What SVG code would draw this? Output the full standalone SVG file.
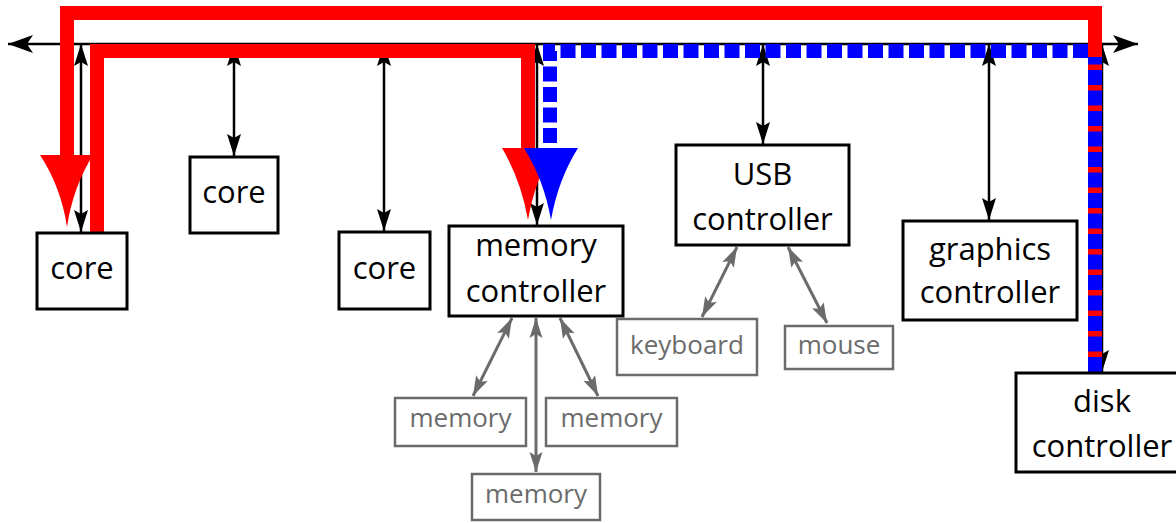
<svg xmlns="http://www.w3.org/2000/svg" width="1176" height="523" viewBox="0 0 1176 523">
<style>
.box{fill:#fff;stroke:#000;stroke-width:3}
.gbox{fill:#fff;stroke:#6b6b6b;stroke-width:2.5}
.t{font-family:"Open Sans","DejaVu Sans",sans-serif;font-size:31px;fill:#000;text-anchor:middle}
.gt{font-family:"Open Sans","DejaVu Sans",sans-serif;font-size:26px;fill:#6b6b6b;text-anchor:middle}
.conn{stroke:#000;stroke-width:2.5;fill:none;marker-start:url(#ah);marker-end:url(#ah)}
.gconn{stroke:#6b6b6b;stroke-width:3;fill:none;marker-start:url(#gah);marker-end:url(#gah)}
.red{stroke:#f00;stroke-width:14;fill:none;stroke-linejoin:miter}
.blue{stroke:#00f;stroke-width:14;fill:none;stroke-dasharray:15 5.5}
</style>
<defs>
<marker id="ah" markerUnits="userSpaceOnUse" markerWidth="24" markerHeight="18" viewBox="-23 -9 24 18" refX="0" refY="0" orient="auto-start-reverse">
<path d="M0,0 L-22,-7 L-18,0 L-22,7 Z" fill="#000"/>
</marker>
<marker id="bah" markerUnits="userSpaceOnUse" markerWidth="28" markerHeight="20" viewBox="-26 -10 27 20" refX="0" refY="0" orient="auto-start-reverse">
<path d="M0,0 L-25,-9 L-19,0 L-25,9 Z" fill="#000"/>
</marker>
<marker id="gah" markerUnits="userSpaceOnUse" markerWidth="24" markerHeight="16" viewBox="-21 -8 22 16" refX="0" refY="0" orient="auto-start-reverse">
<path d="M0,0 L-20,-6.5 L-16,0 L-20,6.5 Z" fill="#6b6b6b"/>
</marker>
</defs>

<g id="connectors">
<path d="M8,44 H1138" stroke="#000" stroke-width="2.5" fill="none" marker-start="url(#bah)" marker-end="url(#bah)"/>
<line class="conn" x1="81" y1="44" x2="81" y2="232"/>
<line class="conn" x1="234" y1="44" x2="234" y2="156"/>
<line class="conn" x1="384" y1="44" x2="384" y2="231"/>
<line class="conn" x1="537" y1="44" x2="537" y2="225"/>
<line class="conn" x1="763" y1="44" x2="763" y2="144"/>
<line class="conn" x1="989" y1="44" x2="989" y2="220"/>
<line class="conn" x1="1102" y1="44" x2="1102" y2="372"/>
<line class="gconn" x1="512" y1="318" x2="473" y2="396"/>
<line class="gconn" x1="536" y1="318" x2="536" y2="472"/>
<line class="gconn" x1="560" y1="318" x2="598" y2="396"/>
<line class="gconn" x1="737" y1="247" x2="702" y2="317"/>
<line class="gconn" x1="788" y1="247" x2="827" y2="323"/>
<path class="red" d="M1095,372 V13 H67 V157"/>
<path d="M40,155 L93,155 Q73,187 67,227 Q61,187 40,155 Z" fill="#f00"/>
<path class="red" d="M97,233 V51 H528 V150"/>
<path d="M502,148 L554,148 Q535,180 528,220 Q521,180 502,148 Z" fill="#f00"/>
<path class="blue" d="M1095,372 V51 H550 V150"/>
<path d="M524,148 L578,148 Q558,180 551,220 Q544,180 524,148 Z" fill="#00f"/>
<rect x="1088" y="20" width="14" height="37" fill="#f00"/>
</g>

<g id="core1"><rect class="box" x="37" y="233" width="90" height="76"/><text class="t" x="82" y="279">core</text></g>
<g id="core2"><rect class="box" x="190" y="157" width="88" height="76"/><text class="t" x="234" y="203">core</text></g>
<g id="core3"><rect class="box" x="339" y="232" width="91" height="77"/><text class="t" x="384.5" y="279">core</text></g>
<g id="memctl"><rect class="box" x="449" y="226" width="174" height="90"/><text class="t" x="536" y="256">memory</text><text class="t" x="536" y="302">controller</text></g>
<g id="usb"><rect class="box" x="676" y="145" width="173" height="100"/><text class="t" x="762.5" y="185">USB</text><text class="t" x="762.5" y="230">controller</text></g>
<g id="graphics"><rect class="box" x="903" y="221" width="174" height="99"/><text class="t" x="990" y="260">graphics</text><text class="t" x="990" y="303">controller</text></g>
<g id="disk"><rect class="box" x="1016" y="373" width="172" height="99"/><text class="t" x="1102" y="412">disk</text><text class="t" x="1102" y="457">controller</text></g>
<g id="memL"><rect class="gbox" x="395" y="398" width="131" height="48"/><text class="gt" x="460.5" y="427">memory</text></g>
<g id="memR"><rect class="gbox" x="546" y="398" width="131" height="48"/><text class="gt" x="611.5" y="427">memory</text></g>
<g id="memB"><rect class="gbox" x="472" y="474" width="128" height="46"/><text class="gt" x="536" y="503">memory</text></g>
<g id="keyboard"><rect class="gbox" x="617" y="319" width="140" height="56"/><text class="gt" x="687" y="354">keyboard</text></g>
<g id="mouse"><rect class="gbox" x="785" y="326" width="108" height="43"/><text class="gt" x="839" y="354">mouse</text></g>
</svg>
